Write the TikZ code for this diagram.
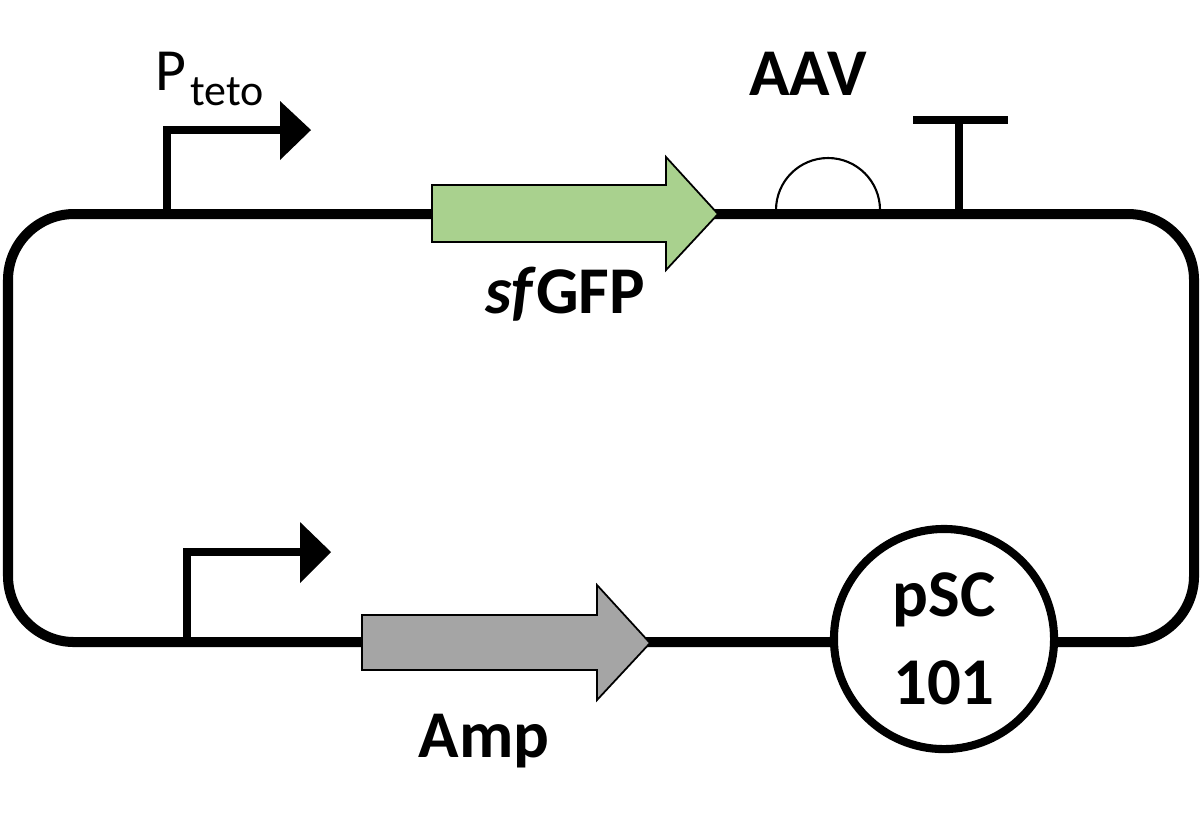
\documentclass[tikz,border=0pt]{standalone}
\usepackage{fontspec}
\setmainfont{Carlito}
\definecolor{gfpgreen}{HTML}{A9D18E}
\definecolor{ampgray}{HTML}{A5A5A5}
\begin{document}
\begin{tikzpicture}[x=0.01cm, y=-0.01cm,
    dna/.style={line width=2.85pt},
    partline/.style={line width=2.3pt},
    gene/.style={draw=black, line width=0.5pt, line join=miter},
    lbl/.style={font=\fontsize{19}{25}\selectfont\bfseries, inner sep=0pt}]
    \useasboundingbox (0,0) rectangle (1201,820);

    % backbone
    \draw[dna, rounded corners=0.66cm] (8,214) rectangle (1194,642);

    % P_teto promoter
    \coordinate (ptop) at (167,218);
    \draw[partline] (ptop) |- (282,130);
    \fill (280,101) -- (311,130) -- (280,160) -- cycle;
    \node[anchor=base west, inner sep=0pt, font=\fontsize{17}{20}\selectfont] (pteto) at (155,90)
        {P\hspace{1pt}\raisebox{-4.3pt}{\fontsize{12.5}{14}\selectfont teto}};

    % sfGFP
    \filldraw[gene, fill=gfpgreen] (432,185) -- (666,185) -- (666,157) -- (718,214)
        -- (666,270) -- (666,242) -- (432,242) -- cycle;
    \node[lbl, anchor=base] (gfp) at (565,313) {\textit{sf}GFP};

    % AAV tag
    \draw[line width=0.6pt] (776,210) arc[start angle=180, end angle=360, radius=52];
    \node[lbl, anchor=base] (aav) at (808,95) {AAV};

    % terminator
    \coordinate (term) at (959,214);
    \draw[partline] (term) -- (959,120);
    \draw[partline] (913,120) -- (1008,120);

    % bottom promoter
    \coordinate (pbot) at (187,646);
    \draw[partline] (pbot) |- (302,552);
    \fill (300,522) -- (331,552) -- (300,583) -- cycle;

    % Amp
    \filldraw[gene, fill=ampgray] (362,615) -- (597,615) -- (597,585) -- (650,643)
        -- (597,700) -- (597,670) -- (362,670) -- cycle;
    \node[lbl, anchor=base] (amp) at (484,757) {Amp};

    % origin
    \node[lbl, circle, draw, fill=white, line width=2.3pt, minimum size=2.2cm,
        align=center] (ori) at (944,639) {pSC\\101};
\end{tikzpicture}
\end{document}
